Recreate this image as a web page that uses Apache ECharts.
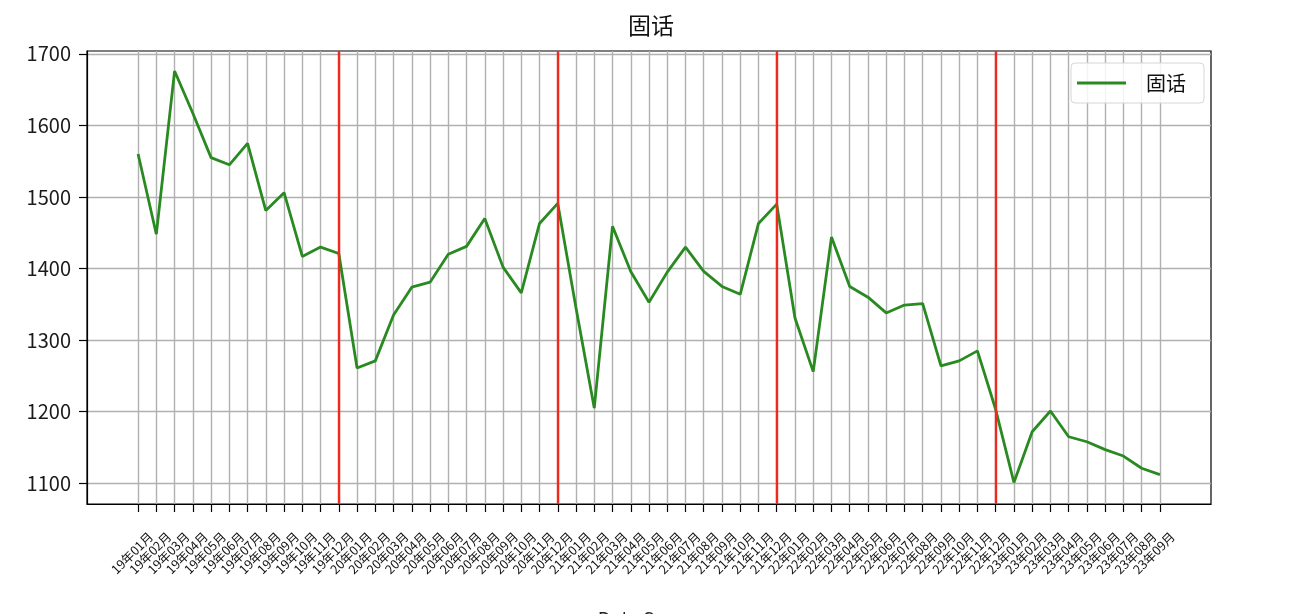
<!DOCTYPE html>
<html>
<head>
<meta charset="utf-8">
<script src="https://cdn.jsdelivr.net/npm/echarts@6/dist/echarts.min.js"></script>
<style>
html,body{margin:0;padding:0;background:#fff;}
#c{width:1302px;height:614px;}
</style>
</head>
<body>
<div id="c"></div>
<script>
const categories = [
  '19年01月','19年02月','19年03月','19年04月','19年05月','19年06月','19年07月','19年08月','19年09月','19年10月','19年11月','19年12月',
  '20年01月','20年02月','20年03月','20年04月','20年05月','20年06月','20年07月','20年08月','20年09月','20年10月','20年11月','20年12月',
  '21年01月','21年02月','21年03月','21年04月','21年05月','21年06月','21年07月','21年08月','21年09月','21年10月','21年11月','21年12月',
  '22年01月','22年02月','22年03月','22年04月','22年05月','22年06月','22年07月','22年08月','22年09月','22年10月','22年11月','22年12月',
  '23年01月','23年02月','23年03月','23年04月','23年05月','23年06月','23年07月','23年08月','23年09月'
];
const values = [
  1560, 1448, 1676, 1617, 1555, 1545, 1575, 1481, 1506, 1417, 1430, 1421,
  1261, 1271, 1335, 1374, 1381, 1420, 1431, 1470, 1402, 1366, 1463, 1491,
  1345, 1205, 1459, 1396, 1353, 1395, 1430, 1396, 1375, 1364, 1463, 1490,
  1331, 1256, 1444, 1375, 1360, 1338, 1349, 1351, 1264, 1271, 1285, 1203,
  1101, 1172, 1201, 1165, 1158, 1147, 1138, 1121, 1112
];
const redLineCategories = ['19年12月','20年12月','21年12月','22年12月'];
const yTicks = [1100, 1200, 1300, 1400, 1500, 1600, 1700];
const seriesName = '固话';
const titleText = '固话';
const xLabelText = 'Data Source';

const FONT = "'Noto Sans CJK SC', 'Liberation Sans', sans-serif";
const X_MIN = -2.8, X_MAX = 58.8, LABEL_SHIFT = 0.33;
const xTickValues = categories.map((c, i) => i);
const lineData = values.map((v, i) => [i, v]);
const redLines = redLineCategories.map(c => ({ xAxis: categories.indexOf(c) }));

const chart = echarts.init(document.getElementById('c'), null, { renderer: 'canvas' });
chart.setOption({
  animation: false,
  backgroundColor: '#fff',
  title: {
    text: titleText,
    left: 'center',
    top: 14,
    padding: 0,
    textStyle: { fontFamily: FONT, fontSize: 23, fontWeight: 'normal', color: '#111' }
  },
  legend: {
    data: [seriesName],
    left: 1071,
    top: 63,
    orient: 'vertical',
    icon: 'rect',
    padding: [10, 18, 10, 6],
    itemWidth: 49,
    itemHeight: 2.8,
    borderColor: '#d6d6d6',
    borderWidth: 1,
    borderRadius: 4,
    backgroundColor: 'rgba(255,255,255,0.85)',
    textStyle: { fontFamily: FONT, fontSize: 20, color: '#111', padding: [0, 0, 0, 15] }
  },
  grid: {
    left: 87, right: 91, top: 51, bottom: 110,
    show: true, borderColor: '#000', borderWidth: 1.2,
    containLabel: false
  },
  xAxis: [{
    type: 'value',
    min: X_MIN,
    max: X_MAX,
    axisLine: { show: true, onZero: false, lineStyle: { color: '#000', width: 1.2 } },
    axisTick: { show: true, customValues: xTickValues, length: 8, lineStyle: { color: '#000', width: 1.2 } },
    splitLine: { show: true, lineStyle: { color: '#b0b0b0', width: 1.4 } },
    axisLabel: { show: false, customValues: xTickValues }
  }, {
    type: 'value',
    position: 'bottom',
    min: X_MIN + LABEL_SHIFT,
    max: X_MAX + LABEL_SHIFT,
    axisLine: { show: false, onZero: false },
    axisTick: { show: false, customValues: xTickValues },
    splitLine: { show: false },
    axisLabel: {
      customValues: xTickValues,
      formatter: v => categories[Math.round(v)] || '',
      rotate: 45,
      align: 'center',
      verticalAlign: 'middle',
      margin: 49,
      fontFamily: FONT,
      fontSize: 12.5,
      color: '#111',
      showMinLabel: true,
      showMaxLabel: true,
      hideOverlap: false
    }
  }],
  yAxis: {
    type: 'value',
    min: 1071,
    max: 1704,
    axisLine: { show: true, onZero: false, lineStyle: { color: '#000', width: 1.2 } },
    axisTick: { show: true, customValues: yTicks, length: 8, lineStyle: { color: '#000', width: 1.2 } },
    splitLine: { show: true, lineStyle: { color: '#b0b0b0', width: 1.4 } },
    axisLabel: {
      customValues: yTicks,
      formatter: v => String(v),
      margin: 16,
      fontFamily: FONT,
      fontSize: 20,
      color: '#1a1a1a'
    }
  },
  graphic: [{
    type: 'text',
    left: 'center',
    top: 609,
    style: { text: xLabelText, font: "19px " + FONT, fill: '#222' }
  }],
  series: [{
    name: seriesName,
    type: 'line',
    xAxisIndex: 0,
    data: lineData,
    showSymbol: false,
    symbol: 'none',
    lineStyle: { color: '#2a8a22', width: 2.8 },
    itemStyle: { color: '#2a8a22' },
    markLine: {
      silent: true,
      symbol: ['none', 'none'],
      label: { show: false },
      lineStyle: { color: '#ee2a1e', width: 2.4, type: 'solid' },
      data: redLines
    },
    z: 3
  }]
});
</script>
</body>
</html>
